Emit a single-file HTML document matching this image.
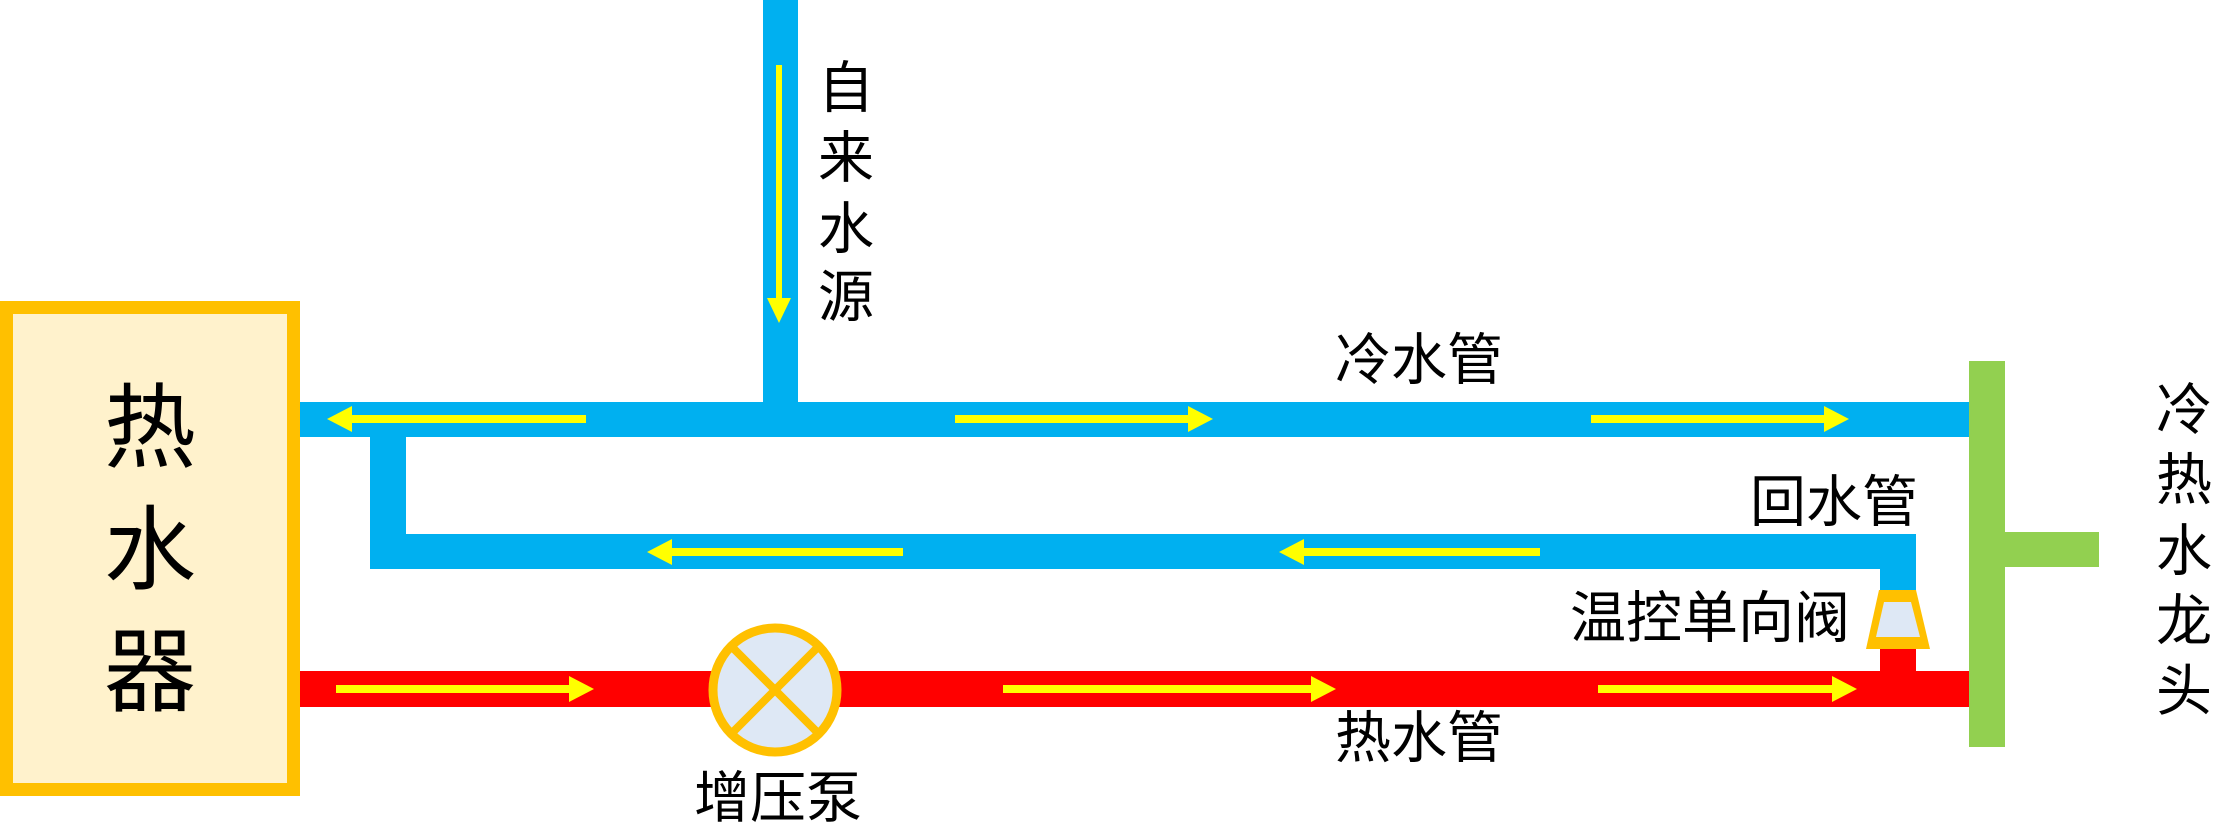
<!DOCTYPE html>
<html><head><meta charset="utf-8"><style>
html,body{margin:0;padding:0;background:#fff;}
svg{display:block;}
text{font-family:"Liberation Sans","Noto Sans CJK SC",sans-serif;fill:#000;}
</style></head><body>
<svg width="2213" height="825" viewBox="0 0 2213 825" xmlns="http://www.w3.org/2000/svg">
<defs>
<marker id="ah" markerWidth="4" markerHeight="4" refX="0" refY="2" orient="auto" markerUnits="strokeWidth"><path d="M0,0 L4,2 L0,4 z" fill="#ffff00"/></marker>
</defs>
<!-- heater -->
<rect x="6.5" y="307.5" width="287" height="482" fill="#fff2cc" stroke="#ffc000" stroke-width="13"/>
<text x="150" y="429" font-size="92" text-anchor="middle" dominant-baseline="central">热</text>
<text x="150" y="551" font-size="92" text-anchor="middle" dominant-baseline="central">水</text>
<text x="150" y="673" font-size="92" text-anchor="middle" dominant-baseline="central">器</text>
<!-- cold pipes -->
<rect x="763" y="0" width="35" height="420" fill="#00b0f0"/>
<rect x="300" y="402" width="1669" height="35" fill="#00b0f0"/>
<rect x="370" y="420" width="36" height="149" fill="#00b0f0"/>
<rect x="370" y="534" width="1546" height="35" fill="#00b0f0"/>
<rect x="1880" y="534" width="36" height="58" fill="#00b0f0"/>
<!-- hot pipe -->
<rect x="300" y="671" width="1669" height="36" fill="#ff0000"/>
<rect x="1880" y="645" width="36" height="40" fill="#ff0000"/>
<!-- valve -->
<polygon points="1879,590 1916,590 1930,649 1866,649" fill="#ffc000"/>
<polygon points="1884,602 1911,602 1920,637 1876,637" fill="#dee8f5"/>
<!-- tap -->
<rect x="1969" y="361" width="36" height="386" fill="#92d050"/>
<rect x="1969" y="532" width="130" height="35" fill="#92d050"/>
<!-- pump -->
<circle cx="775" cy="690" r="62" fill="#dee8f5" stroke="#ffc000" stroke-width="9"/>
<line x1="732" y1="647" x2="818" y2="733" stroke="#ffc000" stroke-width="8"/>
<line x1="818" y1="647" x2="732" y2="733" stroke="#ffc000" stroke-width="8"/>
<!-- arrows -->
<g fill="#ffff00">
<rect x="776" y="65" width="6" height="236"/><polygon points="767,298 791,298 779,323"/>
<rect x="350" y="415" width="236" height="8"/><polygon points="327,419 352,406 352,432"/>
<rect x="955" y="415" width="235" height="8"/><polygon points="1213,419 1188,406 1188,432"/>
<rect x="1591" y="415" width="235" height="8"/><polygon points="1849,419 1824,406 1824,432"/>
<rect x="670" y="548" width="233" height="8"/><polygon points="647,552 672,539 672,565"/>
<rect x="1302" y="548" width="238" height="8"/><polygon points="1279,552 1304,539 1304,565"/>
<rect x="336" y="685" width="234" height="8"/><polygon points="594,689 569,676 569,702"/>
<rect x="1003" y="685" width="310" height="8"/><polygon points="1336,689 1311,676 1311,702"/>
<rect x="1598" y="685" width="236" height="8"/><polygon points="1857,689 1832,676 1832,702"/>
</g>
<!-- labels -->
<g font-size="56" text-anchor="middle" dominant-baseline="central">
<text x="846" y="88">自</text>
<text x="846" y="158">来</text>
<text x="846" y="229">水</text>
<text x="846" y="297">源</text>
<text x="2184" y="410">冷</text>
<text x="2184" y="480">热</text>
<text x="2184" y="551">水</text>
<text x="2184" y="621">龙</text>
<text x="2184" y="691">头</text>
</g>
<g font-size="56" dominant-baseline="central">
<text x="1335" y="360">冷水管</text>
<text x="1750" y="502">回水管</text>
<text x="1570" y="618">温控单向阀</text>
<text x="1335" y="738">热水管</text>
<text x="694" y="798">增压泵</text>
</g>
</svg>
</body></html>
